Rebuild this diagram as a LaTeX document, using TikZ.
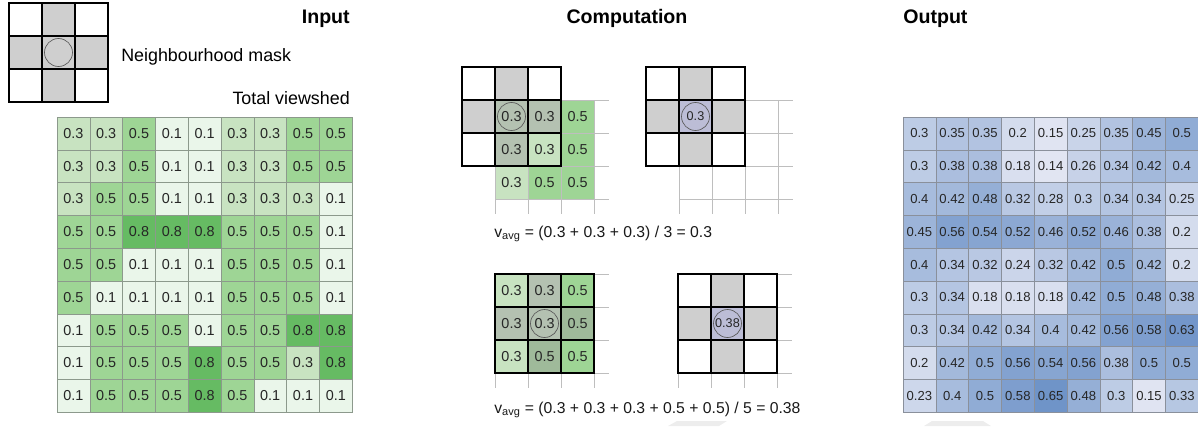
\documentclass[tikz,border=0pt]{standalone}
\usepackage{fontspec}
\setmainfont{Liberation Sans}
\definecolor{v1}{HTML}{EAF6EA}
\definecolor{v3}{HTML}{C8E3C1}
\definecolor{v5}{HTML}{9ED595}
\definecolor{v8}{HTML}{66BB63}
\definecolor{oLight}{HTML}{E1E5F2}
\definecolor{oDark}{HTML}{6E93C8}
\definecolor{mGrey}{HTML}{A0A0A0}
\definecolor{mLav}{HTML}{BCBDD6}
\definecolor{inLine}{HTML}{8C998C}
\definecolor{outLine}{HTML}{8A909B}
\definecolor{faint}{HTML}{BEBEBE}
\definecolor{wMark}{HTML}{EDEDED}

\begin{document}
\begin{tikzpicture}[x=0.75pt,y=-0.75pt]
		\tikzstyle{CELL} = [inner sep=0pt, minimum width=24.6pt, minimum height=24.6pt, text=black!85]
		\tikzstyle{incell} = [CELL, draw=inLine, font=\fontsize{10.8}{12}\selectfont]
		\tikzstyle{outcell} = [CELL, draw=outLine, font=\fontsize{9.8}{11}\selectfont]
		\tikzstyle{wincell} = [inner sep=0pt, minimum width=24.75pt, minimum height=24.75pt, draw=faint, text=black!85, font=\fontsize{10.8}{12}\selectfont]
		\tikzstyle{maskoff} = [inner sep=0pt, minimum width=24.75pt, minimum height=24.75pt, draw=black, line width=1.6pt]
		\tikzstyle{maskon} = [maskoff, fill=mGrey!50!white]
		\tikzstyle{centre} = [maskoff, fill=mLav, text=black!85, font=\fontsize{9.5}{11}\selectfont]
		\tikzstyle{ring} = [circle, draw=black!65, line width=0.5pt, minimum size=21pt, inner sep=0pt]
		\tikzstyle{gridline} = [draw=faint, line width=0.7pt]
		\tikzstyle{title} = [font=\fontsize{14.7}{17}\selectfont\bfseries, inner sep=0pt]
		\tikzstyle{txt} = [font=\fontsize{13.4}{16}\selectfont, inner sep=0pt]
		\tikzstyle{formula} = [font=\fontsize{11.8}{14}\selectfont, inner sep=0pt, text=black!90]

		\useasboundingbox (0,0) rectangle (1198,426);

		% titles and captions
		\node[title, anchor=base east] (tIn) at (350,23) {Input};
		\node[title, anchor=base] (tComp) at (627,23) {Computation};
		\node[title, anchor=base west] (tOut) at (903,23) {Output};
		\node[txt, anchor=base west] (tMask) at (121,61) {Neighbourhood mask};
		\node[txt, anchor=base east] (tView) at (350,104) {Total viewshed};

		% neighbourhood mask
		\foreach \i/\j in {1/0,0/1,1/1,2/1,1/2}
			\node[maskon] (lg-\i-\j) at ({9+33*\i+16.5},{3+33*\j+16.5}) {};
		\foreach \i/\j in {0/0,2/0,0/2,2/2}
			\node[maskoff] (lg-\i-\j) at ({9+33*\i+16.5},{3+33*\j+16.5}) {};
		\node[ring] (lgRing) at (lg-1-1) {};

		% input grid
		\foreach \row [count=\r] in {
			{0.3,0.3,0.5,0.1,0.1,0.3,0.3,0.5,0.5},
			{0.3,0.3,0.5,0.1,0.1,0.3,0.3,0.5,0.5},
			{0.3,0.5,0.5,0.1,0.1,0.3,0.3,0.3,0.1},
			{0.5,0.5,0.8,0.8,0.8,0.5,0.5,0.5,0.1},
			{0.5,0.5,0.1,0.1,0.1,0.5,0.5,0.5,0.1},
			{0.5,0.1,0.1,0.1,0.1,0.5,0.5,0.5,0.1},
			{0.1,0.5,0.5,0.5,0.1,0.5,0.5,0.8,0.8},
			{0.1,0.5,0.5,0.5,0.8,0.5,0.5,0.3,0.8},
			{0.1,0.5,0.5,0.5,0.8,0.5,0.1,0.1,0.1}} {
			\foreach \v [count=\c] in \row {
				\pgfmathtruncatemacro\k{round(\v*10)}
				\node[incell, fill=v\k] (in-\r-\c) at ({57+32.8*(\c-0.5)},{117+32.8*(\r-0.5)}) {\v};
			}
		}

		% computation: faint grid behind each window
		\foreach \gx/\gy in {495/100, 679/100, 495/274, 678/274}
			\foreach \n in {0,...,3} {
				\draw[gridline] (\gx,{\gy+33*\n}) -- ++(114,0);
				\draw[gridline] ({\gx+33*\n},\gy) -- ++(0,114);
			}

		% top left window
		\foreach \r/\c/\v/\m in {1/1/0.3/50, 1/2/0.3/50, 1/3/0.5/100, 2/1/0.3/50, 2/2/0.3/100, 2/3/0.5/100, 3/1/0.3/100, 3/2/0.5/100, 3/3/0.5/100} {
			\pgfmathtruncatemacro\k{round(\v*10)}
			\node[wincell, fill=v\k!\m!mGrey] (wa-\r-\c) at ({495+33*\c-16.5},{100+33*\r-16.5}) {\v};
		}
		\foreach \i/\j in {1/0,0/1}
			\node[maskon] (ma-\i-\j) at ({462+33*\i+16.5},{67+33*\j+16.5}) {};
		\foreach \i/\j in {0/0,2/0,0/2,1/1,2/1,1/2,2/2}
			\node[maskoff] (ma-\i-\j) at ({462+33*\i+16.5},{67+33*\j+16.5}) {};
		\node[ring] (raRing) at (ma-1-1) {};

		% top right result
		\foreach \i/\j in {1/0,0/1,2/1,1/2}
			\node[maskon] (mb-\i-\j) at ({646+33*\i+16.5},{67+33*\j+16.5}) {};
		\foreach \i/\j in {0/0,2/0,0/2,2/2}
			\node[maskoff] (mb-\i-\j) at ({646+33*\i+16.5},{67+33*\j+16.5}) {};
		\node[centre] (mb-1-1) at ({646+49.5},{67+49.5}) {0.3};
		\node[ring] (rbRing) at (mb-1-1) {};

		\node[formula, anchor=base west] (fOne) at (494,237) {v\textsubscript{avg} = (0.3 + 0.3 + 0.3) / 3 = 0.3};

		% bottom left window
		\foreach \r/\c/\v/\m in {1/1/0.3/100, 1/2/0.3/50, 1/3/0.5/100, 2/1/0.3/50, 2/2/0.3/50, 2/3/0.5/50, 3/1/0.3/100, 3/2/0.5/50, 3/3/0.5/100} {
			\pgfmathtruncatemacro\k{round(\v*10)}
			\node[wincell, fill=v\k!\m!mGrey] (wc-\r-\c) at ({495+33*\c-16.5},{274+33*\r-16.5}) {\v};
		}
		\foreach \i/\j in {0/0,1/0,2/0,0/1,1/1,2/1,0/2,1/2,2/2}
			\node[maskoff] (mc-\i-\j) at ({495+33*\i+16.5},{274+33*\j+16.5}) {};
		\node[ring] (rcRing) at (mc-1-1) {};

		% bottom right result
		\foreach \i/\j in {1/0,0/1,2/1,1/2}
			\node[maskon] (md-\i-\j) at ({678+33*\i+16.5},{274+33*\j+16.5}) {};
		\foreach \i/\j in {0/0,2/0,0/2,2/2}
			\node[maskoff] (md-\i-\j) at ({678+33*\i+16.5},{274+33*\j+16.5}) {};
		\node[centre] (md-1-1) at ({678+49.5},{274+49.5}) {0.38};
		\node[ring] (rdRing) at (md-1-1) {};

		\node[formula, anchor=base west] (fTwo) at (494,413) {v\textsubscript{avg} = (0.3 + 0.3 + 0.3 + 0.5 + 0.5) / 5 = 0.38};

		% output grid
		\foreach \row [count=\r] in {
			{0.3,0.35,0.35,0.2,0.15,0.25,0.35,0.45,0.5},
			{0.3,0.38,0.38,0.18,0.14,0.26,0.34,0.42,0.4},
			{0.4,0.42,0.48,0.32,0.28,0.3,0.34,0.34,0.25},
			{0.45,0.56,0.54,0.52,0.46,0.52,0.46,0.38,0.2},
			{0.4,0.34,0.32,0.24,0.32,0.42,0.5,0.42,0.2},
			{0.3,0.34,0.18,0.18,0.18,0.42,0.5,0.48,0.38},
			{0.3,0.34,0.42,0.34,0.4,0.42,0.56,0.58,0.63},
			{0.2,0.42,0.5,0.56,0.54,0.56,0.38,0.5,0.5},
			{0.23,0.4,0.5,0.58,0.65,0.48,0.3,0.15,0.33}} {
			\foreach \v [count=\c] in \row {
				\pgfmathtruncatemacro\p{min(100,max(0,(\v-0.14)*196))}
				\node[outcell, fill=oDark!\p!oLight] (out-\r-\c) at ({903+32.8*(\c-0.5)},{117+32.8*(\r-0.5)}) {\v};
			}
		}

		% faint marks at the bottom edge
		\fill[wMark] (677,421) -- (727,421) -- (719,426) -- (668,426) -- cycle;
		\fill[wMark] (932,421) -- (983,421) -- (991,426) -- (924,426) -- cycle;
\end{tikzpicture}
\end{document}
